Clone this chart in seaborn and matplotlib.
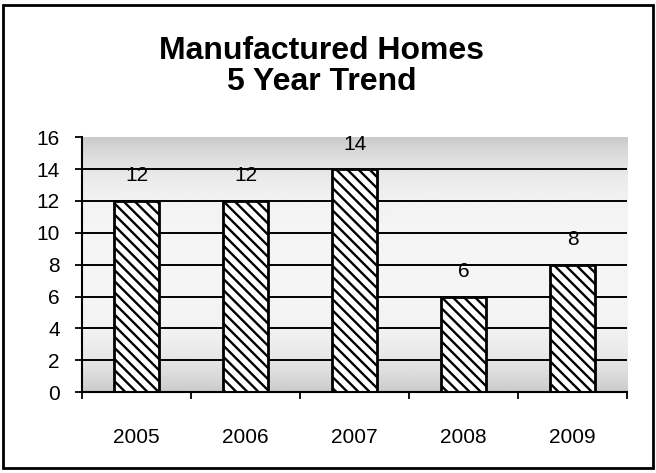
import numpy as np
import pandas as pd
import seaborn as sns
import matplotlib.pyplot as plt
from matplotlib.patches import Rectangle

# data
years = ["2005", "2006", "2007", "2008", "2009"]
homes = [12, 12, 14, 6, 8]
y_ticks = [0, 2, 4, 6, 8, 10, 12, 14, 16]

df = pd.DataFrame({"year": years, "homes": homes})

sns.set_style("white")
plt.rcParams["font.family"] = ["Liberation Sans", "DejaVu Sans"]
plt.rcParams["text.color"] = "black"
plt.rcParams["xtick.color"] = "black"
plt.rcParams["ytick.color"] = "black"
plt.rcParams["hatch.linewidth"] = 1.7
plt.rcParams["hatch.color"] = "black"

fig = plt.figure(figsize=(6.56, 4.73), dpi=100)
ax = fig.add_axes([0.125, 0.171, 0.831, 0.539])

# background shading (darker near top and bottom, like the original fill)
t = np.linspace(0, 1, 256).reshape(-1, 1)
shade = 0.96 - 0.17 * np.abs(2 * t - 1) ** 3.5
ax.imshow(shade, cmap="gray", vmin=0, vmax=1, aspect="auto",
          extent=[-0.5, 4.5, 0, 16], zorder=0)

sns.barplot(data=df, x="year", y="homes", color="white", width=0.41,
            edgecolor="black", linewidth=2, hatch="\\\\\\", ax=ax, zorder=3)

ax.set_xlim(-0.5, 4.5)
ax.set_ylim(0, 16)
ax.set_yticks(y_ticks)
ax.set_xlabel("")
ax.set_ylabel("")

# gridlines (none at the top edge)
for v in y_ticks[1:-1]:
    ax.axhline(v, color="black", lw=1.4, zorder=1)

# value labels
for i, v in enumerate(homes):
    ax.annotate(str(v), (i, v), xytext=(0, 18), textcoords="offset points",
                ha="center", va="center", fontsize=15, color="black", zorder=4)

# ticks: labels at centres, marks at boundaries
ax.set_xticks(range(len(years)))
ax.set_xticklabels(years)
ax.set_xticks(np.arange(-0.5, 5, 1), minor=True)
ax.tick_params(axis="x", which="major", length=0, pad=26, labelsize=15,
               labelcolor="black")
ax.tick_params(axis="x", which="minor", length=5, width=1.3, direction="out",
               bottom=True, color="black")
ax.tick_params(axis="y", length=5, width=1.3, direction="out", left=True,
               pad=11, labelsize=15, color="black", labelcolor="black")

for s in ["top", "right"]:
    ax.spines[s].set_visible(False)
for s in ["left", "bottom"]:
    ax.spines[s].set_color("black")
    ax.spines[s].set_linewidth(1.5)
    ax.spines[s].set_zorder(5)

fig.text(0.49, 0.86, "Manufactured Homes\n5 Year Trend", ha="center",
         va="center", fontsize=23, fontweight="bold", linespacing=1.05,
         color="black")

# outer frame
fig.patches.append(Rectangle((0.005, 0.01), 0.99, 0.98, transform=fig.transFigure,
                             fill=False, edgecolor="black", lw=2))

plt.savefig("out.png", dpi=100)
